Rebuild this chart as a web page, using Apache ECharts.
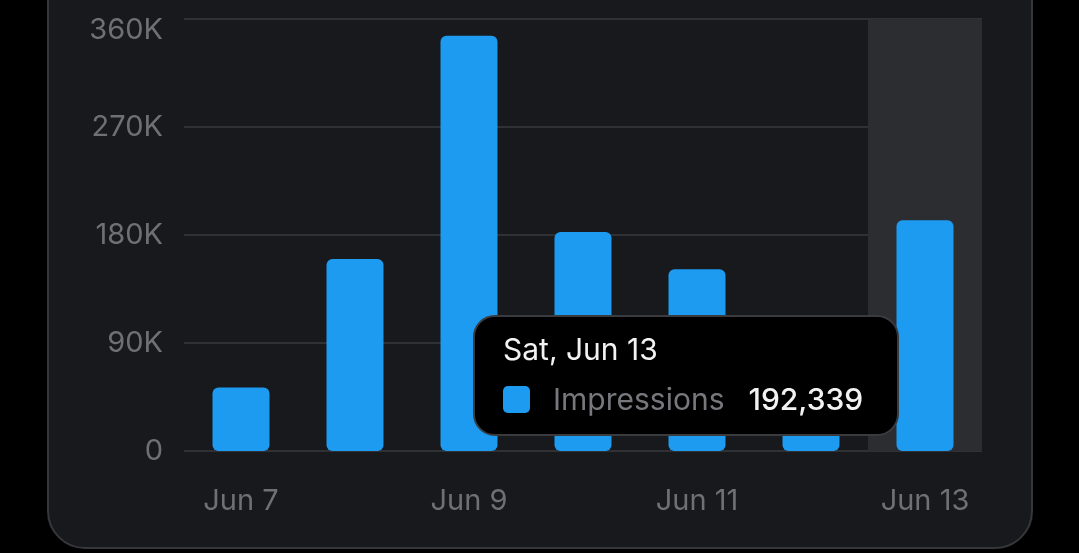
<!DOCTYPE html>
<html>
<head>
<meta charset="utf-8">
<script src="https://cdn.jsdelivr.net/npm/echarts@6/dist/echarts.min.js"></script>
<style>
  html, body { margin:0; padding:0; background:#000; width:1079px; height:553px; overflow:hidden; }
  #card { position:absolute; left:47px; top:-60px; width:982px; height:605px; background:#18191c; border:2px solid #36373b; border-radius:38px; }
  #chart { position:absolute; left:0; top:0; width:1079px; height:553px; }
</style>
</head>
<body>
<div id="card"></div>
<div id="chart"></div>
<script>
const categories = ['Jun 7', 'Jun 8', 'Jun 9', 'Jun 10', 'Jun 11', 'Jun 12', 'Jun 13'];
const dayNames = ['Sun', 'Mon', 'Tue', 'Wed', 'Thu', 'Fri', 'Sat'];
const impressions = [53000, 160000, 346000, 182500, 151500, 88000, 192339];
const seriesName = 'Impressions';

const chart = echarts.init(document.getElementById('chart'), null, { renderer: 'canvas' });
const font = 'Inter, "Noto Sans", sans-serif';
chart.setOption({
  backgroundColor: 'transparent',
  animation: false,
  textStyle: { fontFamily: font },
  grid: { left: 184, right: 97, top: 19, bottom: 102, containLabel: false },
  tooltip: {
    trigger: 'axis',
    alwaysShowContent: true,
    transitionDuration: 0,
    position: [473, 315],
    axisPointer: { type: 'shadow', z: 0, shadowStyle: { color: '#2c2d31', opacity: 1 } },
    backgroundColor: '#000',
    borderColor: '#3a3b3f',
    borderWidth: 2,
    padding: [12, 34, 15, 28],
    extraCssText: 'border-radius:22px;box-shadow:none;',
    formatter: function (params) {
      const p = params[0];
      const i = p.dataIndex;
      return '<div style="font-family:' + font.replace(/"/g, "'") + ';">' +
        '<div style="color:#f2f2f2;font-size:30px;line-height:40px;">' + dayNames[i] + ', ' + categories[i] + '</div>' +
        '<div style="display:flex;align-items:center;margin-top:10px;line-height:40px;">' +
        '<span style="display:inline-block;width:27px;height:27px;border-radius:5px;background:#1d9bf0;margin-right:23px;"></span>' +
        '<span style="color:#77787d;font-size:30px;">' + seriesName + '</span>' +
        '<span style="color:#f2f2f2;font-size:30px;font-weight:500;margin-left:24px;">' + p.value.toLocaleString('en-US') + '</span>' +
        '</div></div>';
    }
  },
  xAxis: {
    type: 'category',
    data: categories,
    axisLine: { show: false },
    axisTick: { show: false },
    axisLabel: { interval: 1, color: '#6f7075', fontSize: 29, margin: 36, fontFamily: font }
  },
  yAxis: {
    type: 'value',
    min: 0, max: 360000, interval: 90000,
    axisLine: { show: false },
    axisTick: { show: false },
    splitLine: { lineStyle: { color: '#303135', width: 2 } },
    axisLabel: {
      color: '#6f7075', fontSize: 29, margin: 21, fontFamily: font,
      formatter: function (v) {
        if (v === 360000) return '{top|360K}';
        return v === 0 ? '0' : (v / 1000) + 'K';
      },
      rich: { top: { color: '#6f7075', fontSize: 29, fontFamily: font, padding: [23, 0, 0, 0] } }
    }
  },
  series: [{
    name: seriesName,
    type: 'bar',
    z: 5,
    data: impressions,
    barWidth: '50%',
    itemStyle: { color: '#1d9bf0', borderRadius: 6 },
    emphasis: { disabled: true }
  }]
});
chart.dispatchAction({ type: 'showTip', seriesIndex: 0, dataIndex: 6 });
</script>
</body>
</html>
